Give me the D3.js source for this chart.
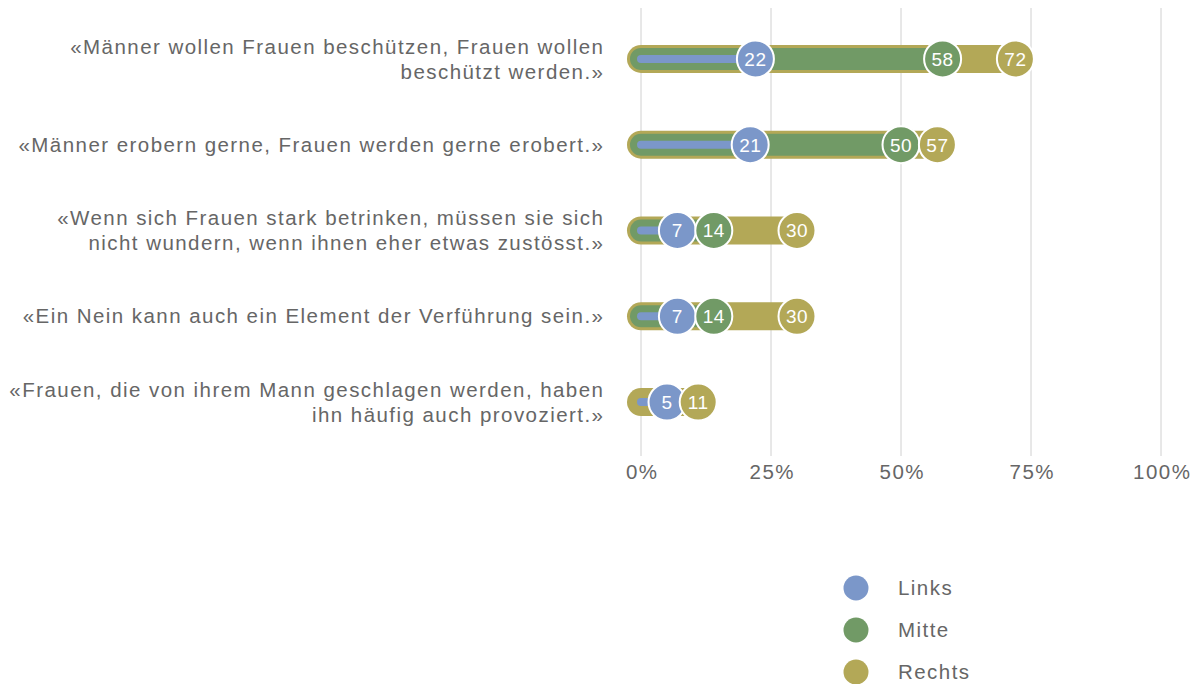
<!DOCTYPE html>
<html>
<head>
<meta charset="utf-8">
<script src="https://cdn.jsdelivr.net/npm/d3@7"></script>
<style>
  html, body { margin: 0; padding: 0; background: #fff; }
  svg { display: block; font-family: "Liberation Sans", Arial, Helvetica, sans-serif; }
</style>
</head>
<body>
<svg id="chart" width="1200" height="684"></svg>
<script>
// Statements (each split into display lines)
const statements = [
  ["«Männer wollen Frauen beschützen, Frauen wollen", "beschützt werden.»"],
  ["«Männer erobern gerne, Frauen werden gerne erobert.»"],
  ["«Wenn sich Frauen stark betrinken, müssen sie sich", "nicht wundern, wenn ihnen eher etwas zustösst.»"],
  ["«Ein Nein kann auch ein Element der Verführung sein.»"],
  ["«Frauen, die von ihrem Mann geschlagen werden, haben", "ihn häufig auch provoziert.»"]
];

// Agreement in percent per political orientation
const links  = [22, 21, 7, 7, 5];
const mitte  = [58, 50, 14, 14, null];
const rechts = [72, 57, 30, 30, 11];

const seriesNames = ["Links", "Mitte", "Rechts"];
const seriesColors = ["#7b97c9", "#719a66", "#b3a857"];
const tickValues = [0, 25, 50, 75, 100];

const series = [
  { name: seriesNames[0], values: links,  color: seriesColors[0], width: 8 },
  { name: seriesNames[1], values: mitte,  color: seriesColors[1], width: 22 },
  { name: seriesNames[2], values: rechts, color: seriesColors[2], width: 28 }
];

const LS = 1.45;       // letter spacing for the wide body text
const FS = 20.5;       // body font size

const svg = d3.select("#chart");

const x = d3.scaleLinear().domain([0, 100]).range([641, 1161]);
const y = d3.scaleBand()
  .domain(d3.range(statements.length))
  .range([16, 445])
  .paddingInner(0).paddingOuter(0);
const cy = i => y(i) + y.bandwidth() / 2;

// Vertical gridlines
svg.append("g")
  .selectAll("line")
  .data(tickValues)
  .join("line")
  .attr("x1", d => x(d)).attr("x2", d => x(d))
  .attr("y1", 8).attr("y2", 456)
  .attr("stroke", "#d0d0d0")
  .attr("stroke-width", 1);

// Axis labels
const axis = d3.axisBottom(x).tickValues(tickValues).tickFormat(d => d + "%").tickSize(0).tickPadding(0);
const axisG = svg.append("g").attr("transform", "translate(0,464)").call(axis);
axisG.select(".domain").remove();
axisG.selectAll("text")
  .attr("font-size", FS)
  .attr("fill", "#666")
  .attr("dy", "0.71em")
  .attr("dx", LS / 2)
  .style("letter-spacing", LS + "px")
  .style("font-family", "Liberation Sans, Arial, sans-serif");

// Statement labels
const labels = svg.append("g")
  .selectAll("text")
  .data(statements)
  .join("text")
  .attr("text-anchor", "end")
  .attr("font-size", FS)
  .style("letter-spacing", LS + "px")
  .attr("fill", "#666");
labels.each(function (lines, i) {
  const t = d3.select(this);
  const lh = 25;
  const start = cy(i) - (lines.length - 1) * lh / 2;
  lines.forEach((ln, k) => {
    t.append("tspan")
      .attr("x", 603 + LS)
      .attr("y", start + k * lh)
      .attr("dy", "0.35em")
      .text(ln);
  });
});

// Bars: widest (Rechts) at the back, thinnest (Links) in front
const bars = svg.append("g");
[...series].reverse().forEach(s => {
  bars.append("g")
    .selectAll("line")
    .data(s.values.map((v, i) => ({ v, i })).filter(d => d.v != null))
    .join("line")
    .attr("x1", x(0))
    .attr("x2", d => x(d.v))
    .attr("y1", d => cy(d.i))
    .attr("y2", d => cy(d.i))
    .attr("stroke", s.color)
    .attr("stroke-width", s.width)
    .attr("stroke-linecap", "round");
});

// Value dots
const dots = svg.append("g");
series.forEach(s => {
  const g = dots.append("g")
    .selectAll("g")
    .data(s.values.map((v, i) => ({ v, i })).filter(d => d.v != null))
    .join("g")
    .attr("transform", d => `translate(${x(d.v)},${cy(d.i)})`);
  g.append("circle")
    .attr("r", 18.5)
    .attr("fill", s.color)
    .attr("stroke", "#fff")
    .attr("stroke-width", 2);
  g.append("text")
    .attr("text-anchor", "middle")
    .attr("dy", "0.36em")
    .attr("font-size", 19)
    .style("letter-spacing", "0.5px")
    .attr("fill", "#fff")
    .text(d => d.v);
});

// Legend
const legend = svg.append("g")
  .selectAll("g")
  .data(series)
  .join("g")
  .attr("transform", (d, i) => `translate(856,${588 + i * 42})`);
legend.append("circle").attr("r", 12.5).attr("fill", d => d.color);
legend.append("text")
  .attr("x", 42)
  .attr("dy", "0.36em")
  .attr("font-size", FS)
  .style("letter-spacing", LS + "px")
  .attr("fill", "#666")
  .text(d => d.name);
</script>
</body>
</html>
